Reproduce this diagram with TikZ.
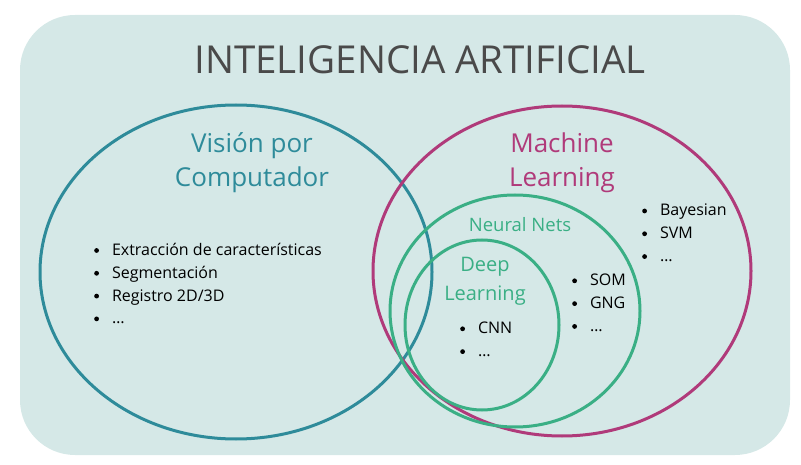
\documentclass[tikz,border=0pt]{standalone}
\usepackage{fontspec}
\setmainfont{Open Sans}
\definecolor{bgteal}{HTML}{D5E8E7}
\definecolor{vcteal}{HTML}{2E8B9A}
\definecolor{mlpink}{HTML}{B03A7A}
\definecolor{nngreen}{HTML}{3AAF85}
\definecolor{titlegray}{HTML}{4A4A4A}
\newcommand{\bul}{\raisebox{0.3ex}{\tikz\fill (0,0) circle (2.4pt);}\hspace{13pt}}
\tikzset{
  ring/.style={line width=3pt},
  bullets/.style={align=left, anchor=north west, font=\fontsize{16}{22.8}\selectfont, inner sep=0pt}
}
\begin{document}
\begin{tikzpicture}[x=1pt,y=-1pt]
  \useasboundingbox (0,0) rectangle (801,465);
  \fill[bgteal, rounded corners=55pt] (20,15) rectangle (790,455);
  \node[titlegray, font=\fontsize{38.5}{42}\selectfont] (title) at (420,60) {INTELIGENCIA ARTIFICIAL};
  % rings
  \draw[ring, vcteal] (236,272) ellipse [x radius=196, y radius=167];
  \draw[ring, mlpink] (562,271) ellipse [x radius=189, y radius=165];
  \draw[ring, nngreen] (515,311) ellipse [x radius=125, y radius=116];
  \draw[ring, nngreen] (482,325) ellipse [x radius=77, y radius=85];
  % labels
  \node[vcteal, align=center, font=\fontsize{26}{34}\selectfont] (vision) at (252,163) {Visión por\\Computador};
  \node[mlpink, align=center, font=\fontsize{26}{34}\selectfont] (ml) at (562,163) {Machine\\Learning};
  \node[nngreen, font=\fontsize{18.5}{22}\selectfont] (nn) at (520,225) {Neural Nets};
  \node[nngreen, align=center, font=\fontsize{20}{29}\selectfont] (dl) at (485,281) {Deep\\Learning};
  % lists
  \node[bullets] (visionlist) at (94,243) {\bul Extracción de características\\
    \bul Segmentación\\ \bul Registro 2D/3D\\ \bul \dots};
  \node[bullets] (mllist) at (642,204) {\bul Bayesian\\ \bul SVM\\ \bul \dots};
  \node[bullets] (nnlist) at (572,274) {\bul SOM\\ \bul GNG\\ \bul \dots};
  \node[bullets] (dllist) at (460,322) {\bul CNN\\ \bul \dots};
\end{tikzpicture}
\end{document}
